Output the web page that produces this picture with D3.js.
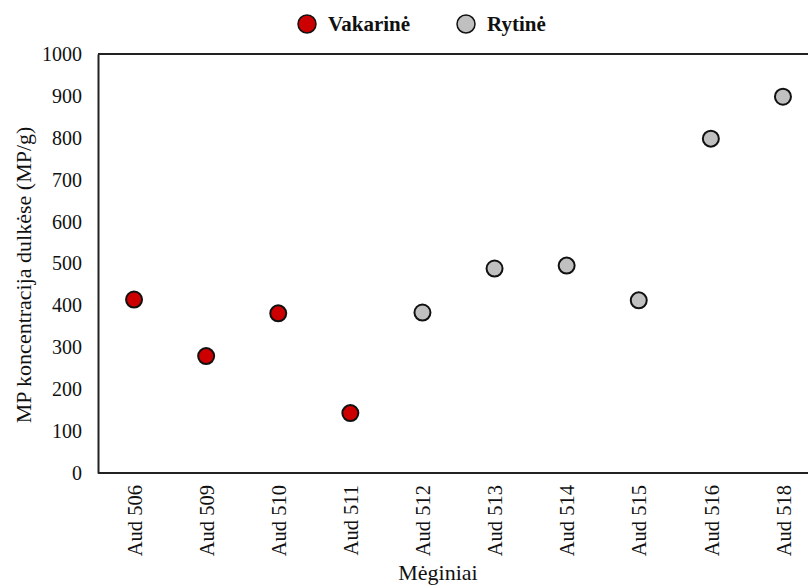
<!DOCTYPE html>
<html>
<head>
<meta charset="utf-8">
<script src="https://cdn.jsdelivr.net/npm/d3@7"></script>
<style>
  body { margin: 0; background: #fff; }
  svg text { font-family: "Liberation Serif", "Times New Roman", serif; fill: #111; }
</style>
</head>
<body>
<div id="chart"></div>
<script>
// DATA
const samples = ["Aud 506", "Aud 509", "Aud 510", "Aud 511", "Aud 512",
                 "Aud 513", "Aud 514", "Aud 515", "Aud 516", "Aud 518"];
const concentration = [414, 279, 381, 143, 383, 488, 495, 412, 798, 898];
const side = ["Vakarinė", "Vakarinė", "Vakarinė", "Vakarinė", "Rytinė",
              "Rytinė", "Rytinė", "Rytinė", "Rytinė", "Rytinė"];
const yTicks = [0, 100, 200, 300, 400, 500, 600, 700, 800, 900, 1000];
const seriesNames = ["Vakarinė", "Rytinė"];
const seriesColors = ["#cc0000", "#c0c0c0"];

// SIZE
const W = 808, H = 586;
const margin = { top: 54, right: 0, bottom: 113, left: 98 };
const height = H - margin.top - margin.bottom;
const serif = "'Liberation Serif', 'Times New Roman', serif";

const svg = d3.select("#chart").append("svg")
    .attr("width", W)
    .attr("height", H);

// categories keep going past the right edge (cropped plot)
const x = d3.scalePoint()
    .domain(samples)
    .range([margin.left, margin.left + 721])
    .padding(0.5);

const y = d3.scaleLinear()
    .domain([0, 1000])
    .range([margin.top + height, margin.top]);

const color = d3.scaleOrdinal().domain(seriesNames).range(seriesColors);

// frame: top line, left axis, bottom axis
svg.append("line")
    .attr("x1", margin.left).attr("x2", W)
    .attr("y1", y(1000)).attr("y2", y(1000))
    .attr("stroke", "#222").attr("stroke-width", 2);

const yAxis = svg.append("g")
    .attr("transform", `translate(${margin.left},0)`)
    .call(d3.axisLeft(y).tickValues(yTicks).tickFormat(d3.format("d")).tickSize(0).tickPadding(16))
    .attr("font-family", serif)
    .attr("font-size", 20);
yAxis.select(".domain").attr("stroke", "#222").attr("stroke-width", 2);

const xAxis = svg.append("g")
    .attr("transform", `translate(0,${y(0)})`)
    .call(d3.axisBottom(x).tickSize(0))
    .attr("font-family", serif)
    .attr("font-size", 20.5);
xAxis.select(".domain")
    .attr("d", `M${margin.left},0H${W}`)
    .attr("stroke", "#222").attr("stroke-width", 2);
xAxis.selectAll("text")
    .style("text-anchor", "end")
    .attr("transform", "rotate(-90)")
    .attr("x", -12)
    .attr("y", 0)
    .attr("dy", "0.35em");

// points
svg.selectAll(".pt")
    .data(samples)
    .enter()
    .append("circle")
    .attr("class", "pt")
    .attr("cx", d => x(d))
    .attr("cy", (d, i) => y(concentration[i]))
    .attr("r", 8)
    .attr("fill", (d, i) => color(side[i]))
    .attr("stroke", "#111")
    .attr("stroke-width", 2);

// axis titles
svg.append("text")
    .attr("transform", "rotate(-90)")
    .attr("x", -275)
    .attr("y", 31)
    .attr("text-anchor", "middle")
    .style("font-size", "22px")
    .text("MP koncentracija dulkėse (MP/g)");

svg.append("text")
    .attr("x", 438)
    .attr("y", 580)
    .attr("text-anchor", "middle")
    .style("font-size", "22px")
    .text("Mėginiai");

// legend
const legend = svg.append("g")
    .attr("transform", "translate(307,24)");

const entries = legend.selectAll("g")
    .data(seriesNames)
    .enter()
    .append("g")
    .attr("transform", (d, i) => `translate(${i * 159},0)`);

entries.append("circle")
    .attr("r", 9)
    .attr("fill", d => color(d))
    .attr("stroke", "#111")
    .attr("stroke-width", 1.5);

entries.append("text")
    .attr("x", 21)
    .attr("dy", "0.35em")
    .style("font-size", "21px")
    .style("font-weight", "bold")
    .text(d => d);
</script>
</body>
</html>
